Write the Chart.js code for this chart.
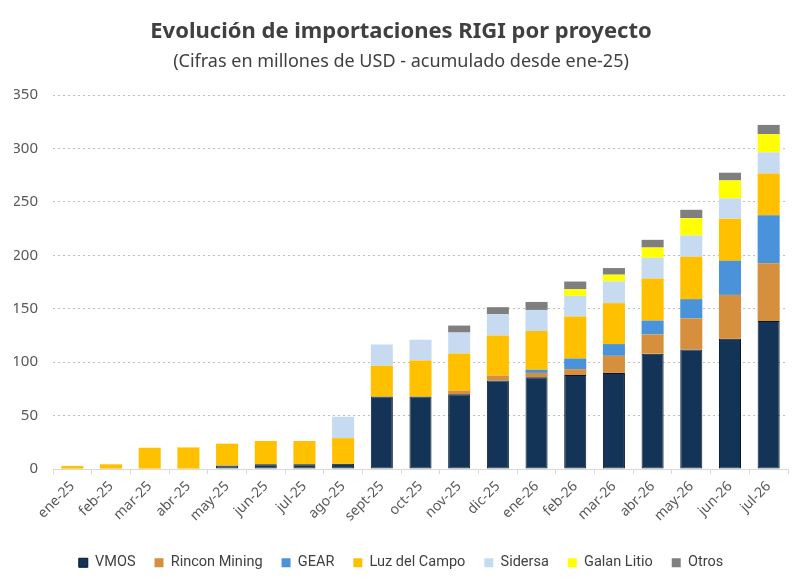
<!DOCTYPE html>
<html>
<head>
<meta charset="utf-8">
<script src="https://cdn.jsdelivr.net/npm/chart.js@4.4.1/dist/chart.umd.min.js"></script>
<style>
html,body{margin:0;padding:0;background:#fff;}
#wrap{width:800px;height:587px;position:relative;}
</style>
</head>
<body>
<div id="wrap"><canvas id="c" width="800" height="587"></canvas></div>
<script>
const categories = ["ene-25","feb-25","mar-25","abr-25","may-25","jun-25","jul-25","ago-25","sept-25","oct-25","nov-25","dic-25","ene-26","feb-26","mar-26","abr-26","may-26","jun-26","jul-26"];
const vmos      = [0,0,0,0,3.5,4.5,4.5,5,68,68,70,83,86,88,90,108,112,122,138.5];
const rincon    = [0,0,0,0,0,0,0,0,0,0,3.5,4.5,4,5.5,16,18,29,41,54];
const gear      = [0,0,0,0,0,0,0,0,0,0,0,0,3,10,11,13,18,32,45];
const luz       = [3,4.5,20,20.3,20.3,21.8,21.8,24,28.7,33.7,34.6,37.5,36.2,39.3,38.3,39.3,39.6,39.3,39];
const sidersa   = [0,0,0,0,0,0,0,20,19.9,19.4,19.7,20,19.7,19.3,20.3,19.4,20,19,19.9];
const galan     = [0,0,0,0,0,0,0,0,0,0,0,0,0,6.2,6.3,9.6,16.2,16.8,16.9];
const otros     = [0,0,0,0,0,0,0,0,0,0,6.5,6.5,7.5,7.2,6.2,7.2,7.8,7.2,8.7];
const yTicks    = [0,50,100,150,200,250,300,350];

const seriesNames = ["VMOS","Rincon Mining","GEAR","Luz del Campo","Sidersa","Galan Litio","Otros"];
const seriesData  = [vmos,rincon,gear,luz,sidersa,galan,otros];
const seriesColors = ["#133457","#D68F3C","#4A93DA","#FFC000","#C6DBF1","#FFFF00","#7F7F7F"];

const datasets = seriesNames.map((n,i)=>({
  label:n,
  data:seriesData[i].map(v=>v===0?null:v),
  backgroundColor:seriesColors[i],
  borderColor: i===0 ? "#08162a" : seriesColors[i],
  borderWidth: i===0 ? 1 : 0,
  borderSkipped:false,
  barPercentage:0.57,
  categoryPercentage:1.0
}));

new Chart(document.getElementById('c'),{
  type:'bar',
  data:{labels:categories,datasets:datasets},
  options:{
    responsive:false,
    animation:false,
    layout:{padding:{left:14,right:12,top:8,bottom:7}},
    plugins:{
      title:{display:true,text:"Evolución de importaciones RIGI por proyecto",color:"#404040",
        font:{family:"'Noto Sans', sans-serif",size:22,weight:'bold'},padding:{top:11,bottom:6}},
      subtitle:{display:true,text:"(Cifras en millones de USD - acumulado desde ene-25)",color:"#404040",
        font:{family:"'Noto Sans', sans-serif",size:18},padding:{bottom:22}},
      legend:{position:'bottom',
        labels:{boxWidth:9,boxHeight:9,padding:19,color:"#404040",
          font:{family:"'Liberation Sans Narrow','Roboto',sans-serif",size:14.5}}},
      tooltip:{enabled:false}
    },
    scales:{
      x:{stacked:true,
        afterFit:(s)=>{s.paddingLeft=0;s.paddingRight=8;s.height+=8;},
        grid:{display:true,drawOnChartArea:false,drawTicks:true,tickLength:5,color:"#d9d9d9",offset:true},
        border:{display:true,color:"#d9d9d9"},
        ticks:{color:"#595959",maxRotation:45,minRotation:45,padding:4,font:{family:"'Noto Sans', sans-serif",size:14}}
      },
      y:{stacked:true,min:0,max:350,
        afterBuildTicks:(ax)=>{ax.ticks=yTicks.map(v=>({value:v}));},
        afterFit:(s)=>{s.width=39;},
        grid:{color:"#bfbfbf",drawTicks:false,lineWidth:1},
        border:{display:false,dash:[2,3]},
        ticks:{color:"#595959",padding:15,font:{family:"'Noto Sans', sans-serif",size:15}}
      }
    }
  }
});
</script>
</body>
</html>
